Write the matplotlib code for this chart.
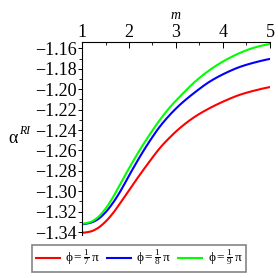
import numpy as np
import matplotlib
matplotlib.use("Agg")
import matplotlib.pyplot as plt
from matplotlib.ticker import MultipleLocator, FuncFormatter

plt.rcParams['font.family'] = ['Liberation Serif', 'DejaVu Serif']
plt.rcParams['mathtext.fontset'] = 'custom'
plt.rcParams['mathtext.rm'] = 'Liberation Serif'
plt.rcParams['mathtext.it'] = 'Liberation Serif:italic'

m_vals = [1.0, 1.170, 1.319, 1.489, 1.660, 1.809, 2.021, 2.234, 2.447,
          2.660, 2.872, 3.085, 3.404, 3.723, 4.043, 4.362, 4.681, 5.0]
alpha_pi7 = [-1.3406, -1.3396, -1.3366, -1.3303, -1.3214, -1.3119, -1.2977, -1.2836, -1.2702,
             -1.2575, -1.2471, -1.2380, -1.2269, -1.2184, -1.2113, -1.2054, -1.2012, -1.1979]
alpha_pi8 = [-1.3322, -1.3310, -1.3280, -1.3212, -1.3113, -1.3006, -1.2830, -1.2660, -1.2504,
             -1.2364, -1.2250, -1.2152, -1.2030, -1.1924, -1.1844, -1.1781, -1.1737, -1.1703]
alpha_pi9 = [-1.3318, -1.3303, -1.3263, -1.3178, -1.3058, -1.2934, -1.2758, -1.2592, -1.2440,
             -1.2299, -1.2176, -1.2071, -1.1927, -1.1810, -1.1717, -1.1644, -1.1590, -1.1556]
labels = [r'$\mathrm{\phi} = \frac{1}{7}\,\mathrm{\pi}$',
          r'$\mathrm{\phi} = \frac{1}{8}\,\mathrm{\pi}$',
          r'$\mathrm{\phi} = \frac{1}{9}\,\mathrm{\pi}$']
colors = ['#ff0000', '#0000ff', '#00ff00']


def pchip(x, y, xs):
    x = np.asarray(x, float); y = np.asarray(y, float)
    h = np.diff(x); d = np.diff(y) / h
    n = len(x); m = np.zeros(n)
    for k in range(1, n - 1):
        if d[k - 1] * d[k] > 0:
            w1 = 2 * h[k] + h[k - 1]; w2 = h[k] + 2 * h[k - 1]
            m[k] = (w1 + w2) / (w1 / d[k - 1] + w2 / d[k])
    m[0] = 0.0
    m[-1] = d[-1] * 0.8
    idx = np.clip(np.searchsorted(x, xs) - 1, 0, n - 2)
    t = (xs - x[idx]) / h[idx]
    h00 = 2 * t**3 - 3 * t**2 + 1; h10 = t**3 - 2 * t**2 + t
    h01 = -2 * t**3 + 3 * t**2; h11 = t**3 - t**2
    return h00 * y[idx] + h10 * h[idx] * m[idx] + h01 * y[idx + 1] + h11 * h[idx] * m[idx + 1]


fig = plt.figure(figsize=(2.78, 2.78), dpi=100)
ax = fig.add_axes([0.295, 0.156, 0.676, 0.693])

xs = np.linspace(m_vals[0], m_vals[-1], 400)
handles = []
for ys, c, lab in zip([alpha_pi7, alpha_pi8, alpha_pi9], colors, labels):
    h, = ax.plot(xs, pchip(m_vals, ys, xs), color=c, lw=1.5, label=lab)
    handles.append(h)

ax.set_xlim(1, 5)
ax.set_ylim(-1.3425, -1.1537)
for s in ['right', 'bottom']:
    ax.spines[s].set_visible(False)
ax.spines['left'].set_linewidth(0.8)
ax.spines['top'].set_linewidth(0.8)
ax.xaxis.set_ticks_position('top')
ax.xaxis.set_label_position('top')
ax.xaxis.set_major_locator(MultipleLocator(1))
ax.xaxis.set_minor_locator(MultipleLocator(0.5))
ax.yaxis.set_major_locator(MultipleLocator(0.02))
ax.yaxis.set_minor_locator(MultipleLocator(0.01))
ax.tick_params(axis='x', which='major', direction='in', length=4, width=0.7, labelsize=13, pad=1)
ax.tick_params(axis='x', which='minor', direction='in', length=2, width=0.6)
ax.tick_params(axis='y', which='major', direction='out', length=3, width=0.7, labelsize=13, pad=1)
ax.tick_params(axis='y', which='minor', direction='out', length=2, width=0.6)
ax.yaxis.set_major_formatter(FuncFormatter(lambda v, p: '\u2212%.2f' % abs(v)))

ax.set_xlabel('m', style='italic', fontsize=10, labelpad=3)
fig.text(0.029, 0.502, 'α', fontsize=13, ha='left', va='center')
fig.text(0.070, 0.527, 'RI', fontsize=8.5, style='italic', ha='left', va='center')

leg = fig.legend(handles=handles, loc='center', bbox_to_anchor=(0.5, 0.071), ncol=3,
                 fontsize=9.5, frameon=True, fancybox=False, edgecolor='#666666',
                 handlelength=1.85, handletextpad=0.4, columnspacing=0.5, borderpad=0.25,
                 borderaxespad=0)
leg.get_frame().set_linewidth(1.2)

fig.savefig('out.png', dpi=100)
